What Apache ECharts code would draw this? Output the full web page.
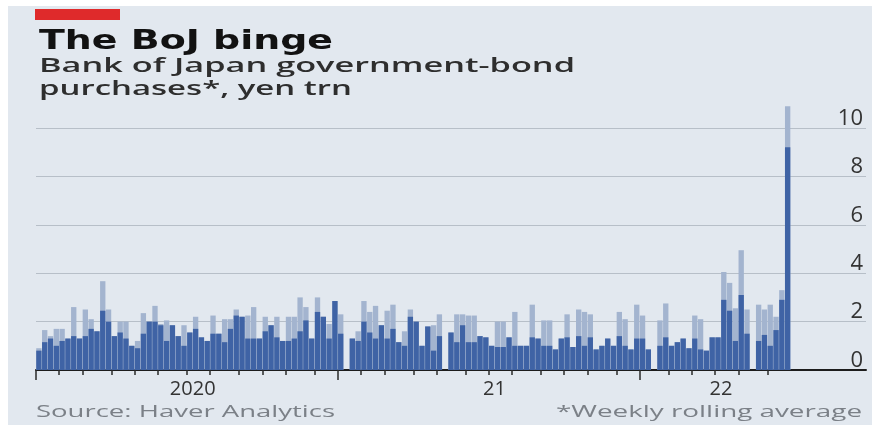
<!DOCTYPE html>
<html><head><meta charset="utf-8">
<script src="https://cdn.jsdelivr.net/npm/echarts@6/dist/echarts.min.js"></script>
<style>html,body{margin:0;padding:0;background:#fff}#c{width:880px;height:425px}</style>
</head><body><div id="c"></div>
<script>
// ---- data ----
const firstWeek = '2020-01-06';      // Monday of the first week shown
const axisWeeks = 143;               // weeks spanned by the x axis
const yearLabels = {2020: '2020', 2021: '21', 2022: '22'};
const yTicks = [0, 2, 4, 6, 8, 10];
// weekly rolling average (dark) and weekly high (light), yen trn
const purchasesAvg = [
 0.8,1.15,1.3,1.0,1.2,1.3,1.4,1.3,1.4,1.7, 1.6,2.45,2.0,1.4,1.55,1.3,1.0,0.9,1.5,2.0,
 2.0,1.85,1.2,1.85,1.4,1.0,1.55,1.7,1.35,1.2, 1.5,1.5,1.15,1.7,2.25,2.2,1.3,1.3,1.3,1.6,
 1.85,1.35,1.2,1.2,1.3,1.6,2.05,1.3,2.4,2.2, 1.3,2.85,1.5,null,1.3,1.2,2.0,1.55,1.3,1.85,
 1.3,1.7,1.15,1.0,2.2,2.0,1.0,1.8,0.8,1.4, null,1.55,1.15,1.85,1.15,1.15,1.4,1.35,1.0,0.95,
 0.95,1.35,1.0,1.0,1.0,1.35,1.3,1.0,1.0,0.85, 1.3,1.35,0.95,1.4,1.0,1.35,0.85,1.0,1.3,1.0,
 1.4,1.0,0.85,1.3,1.3,0.85,null,1.0,1.35,1.0, 1.15,1.3,0.9,1.3,0.85,0.8,1.35,1.35,2.9,2.45,
 1.2,3.1,1.5,null,1.2,1.45,1.0,1.65,2.9,9.2
];
const purchasesHigh = [
 0.9,1.65,1.4,1.7,1.7,1.3,2.6,1.3,2.5,2.1, 1.6,3.67,2.5,1.4,2.0,2.0,1.0,1.2,2.35,2.0,
 2.65,1.9,2.05,1.85,1.4,1.85,1.55,2.2,1.35,1.2, 2.25,1.5,2.1,2.1,2.5,2.2,2.25,2.6,1.3,2.2,
 1.85,2.2,1.2,2.2,2.2,3.0,2.6,1.3,3.0,2.2, 1.9,2.85,2.3,null,1.3,1.6,2.85,2.4,2.65,1.85,
 2.45,2.7,1.15,1.6,2.5,2.0,1.0,1.8,1.85,2.3, null,1.55,2.3,2.3,2.25,2.25,1.4,1.35,1.0,2.0,
 2.0,1.35,2.4,1.0,1.0,2.7,1.3,2.05,2.05,0.85, 1.3,2.3,0.95,2.5,2.4,2.3,0.85,1.0,1.3,1.0,
 2.4,2.1,0.85,2.7,2.25,0.85,null,2.05,2.75,1.0, 1.15,1.3,0.9,2.25,2.1,0.8,1.35,1.35,4.05,3.6,
 2.55,4.95,2.5,null,2.7,2.5,2.7,2.2,3.3,10.9
];

// ---- categories built from the week dates ----
function weekDate(i) {
  const d = new Date(firstWeek + 'T00:00:00Z');
  d.setUTCDate(d.getUTCDate() + 7 * i);
  return d;
}
const iso = d => d.toISOString().slice(0, 10);
const weekCats = [];      // bands (one per week)
const edgeCats = [];      // week boundaries
for (let i = 0; i < axisWeeks; i++) weekCats.push(iso(weekDate(i)));
for (let i = 0; i <= axisWeeks; i++) edgeCats.push(iso(weekDate(i)));
const nData = purchasesAvg.length;
const isMonthStart = j => j === 0 || weekDate(j).getUTCMonth() !== weekDate(j - 1).getUTCMonth();
const isYearStart = j => j === 0 || weekDate(j).getUTCFullYear() !== weekDate(j - 1).getUTCFullYear();
// label each year at the middle of its visible span
const labelAt = {};
(function () {
  let s = 0;
  for (let j = 1; j <= nData; j++) {
    if (j === nData || isYearStart(j)) {
      labelAt[Math.ceil((s + j + 1) / 2)] = yearLabels[weekDate(s).getUTCFullYear()];
      s = j;
    }
  }
})();

// ---- text fitting (the reference type is horizontally stretched) ----
const mctx = document.createElement('canvas').getContext('2d');
function fitX(text, font, w) { mctx.font = font; return w / mctx.measureText(text).width; }
function txt(text, font, color, x, y, w, align) {
  return {
    type: 'text', x: x, y: y, z: 10, scaleX: fitX(text, font, w),
    style: { text: text, font: font, fill: color, textAlign: align || 'left', textVerticalAlign: 'middle' }
  };
}
const titleFont = 'bold 27px "DejaVu Sans"';
const subFont = '600 20px "Open Sans"';
const srcFont = '16px "Open Sans"';

const chart = echarts.init(document.getElementById('c'), null, { renderer: 'canvas' });
chart.setOption({
  backgroundColor: '#ffffff',
  animation: false,
  graphic: [
    { type: 'rect', z: -100, shape: { x: 8, y: 6, width: 864, height: 419 }, style: { fill: '#e2e8ef' } },
    { type: 'rect', z: 10, shape: { x: 35, y: 9, width: 85, height: 11 }, style: { fill: '#df2a2b' } },
    txt('The BoJ binge', titleFont, '#121212', 39, 42, 294),
    txt('Bank of Japan government-bond', subFont, '#2e2e2e', 39, 66, 536),
    txt('purchases*, yen trn', subFont, '#2e2e2e', 39, 89, 313),
    txt('Source: Haver Analytics', srcFont, '#7b8087', 36, 412, 299),
    txt('*Weekly rolling average', srcFont, '#7b8087', 862, 412, 306, 'right')
  ],
  grid: { left: 36, right: 14, top: 128, bottom: 55, containLabel: false, outerBoundsMode: 'none' },
  xAxis: [
    { type: 'category', data: weekCats, boundaryGap: true, show: false },
    {
      type: 'category', data: edgeCats, boundaryGap: false, position: 'bottom',
      axisLine: { show: true, lineStyle: { color: '#1c1c1c', width: 2 } },
      axisTick: { show: true, length: 5, lineStyle: { color: '#2a2a2a', width: 1.5 },
        interval: (j) => j < nData && isMonthStart(j) },
      axisLabel: { show: true, interval: (j) => labelAt[j] !== undefined,
        formatter: (v, j) => labelAt[j] || '', fontSize: 20, fontFamily: 'Open Sans', color: '#333', margin: 9 },
      splitLine: { show: false }
    },
    {
      type: 'category', data: edgeCats, boundaryGap: false, position: 'bottom',
      axisLine: { show: false },
      axisTick: { show: true, length: 10, lineStyle: { color: '#2a2a2a', width: 1.5 },
        interval: (j) => j < nData && isYearStart(j) },
      axisLabel: { show: false }, splitLine: { show: false }
    }
  ],
  yAxis: {
    type: 'value', position: 'right', min: yTicks[0], max: yTicks[yTicks.length - 1], interval: yTicks[1] - yTicks[0],
    axisLine: { show: false }, axisTick: { show: false },
    splitLine: { show: true, lineStyle: { color: '#b7bfc8', width: 1 } },
    axisLabel: { inside: true, margin: 3, fontSize: 22, fontFamily: 'Open Sans', color: '#333',
      verticalAlign: 'bottom', lineHeight: 19 }
  },
  series: [
    { name: 'High', type: 'bar', xAxisIndex: 0, data: purchasesHigh, clip: false,
      barGap: '-100%', barCategoryGap: '8%', itemStyle: { color: '#a3b4cf' } },
    { name: 'Average', type: 'bar', xAxisIndex: 0, data: purchasesAvg, clip: false,
      barGap: '-100%', barCategoryGap: '8%', itemStyle: { color: '#3f63a5' } }
  ]
});
</script>
</body></html>
